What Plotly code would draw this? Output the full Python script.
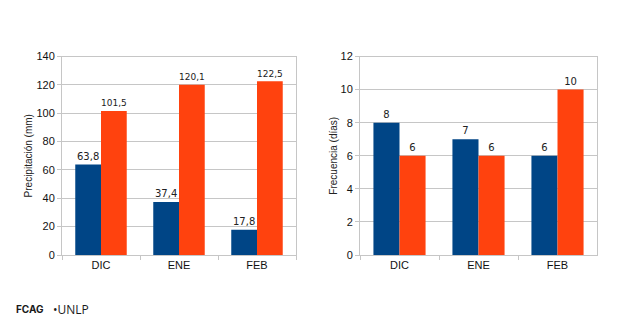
import plotly.graph_objects as go

# Monthly data: DIC, ENE, FEB
meses = ["DIC", "ENE", "FEB"]
precip_serie1 = [63.8, 37.4, 17.8]
precip_serie2 = [101.5, 120.1, 122.5]
frec_serie1 = [8, 7, 6]
frec_serie2 = [6, 6, 10]

AZUL = "#004586"
NARANJA = "#ff420e"
GRID = "#c6c6c6"
W, H = 620, 325

def px_x(p):
    return p / W

def px_y(p):
    return 1 - p / H

fig = go.Figure()

label_font = dict(family="DejaVu Sans, sans-serif", size=10, color="#222222")

fig.add_trace(go.Bar(x=meses, y=precip_serie1, marker_color=AZUL, xaxis="x", yaxis="y",
                     texttemplate="%{y:.1f}", textposition="outside", textfont=label_font,
                     cliponaxis=False, marker_line_width=0))
fig.add_trace(go.Bar(x=meses, y=precip_serie2, marker_color=NARANJA, xaxis="x", yaxis="y",
                     texttemplate="%{y:.1f}", textposition="outside", textfont=label_font,
                     cliponaxis=False, marker_line_width=0))
fig.add_trace(go.Bar(x=meses, y=frec_serie1, marker_color=AZUL, xaxis="x2", yaxis="y2",
                     texttemplate="%{y}", textposition="outside", textfont=label_font,
                     cliponaxis=False, marker_line_width=0))
fig.add_trace(go.Bar(x=meses, y=frec_serie2, marker_color=NARANJA, xaxis="x2", yaxis="y2",
                     texttemplate="%{y}", textposition="outside", textfont=label_font,
                     cliponaxis=False, marker_line_width=0))

tick_font = dict(family="Liberation Sans, Arial, sans-serif", size=11, color="#111111")
title_font = dict(family="Liberation Sans, Arial, sans-serif", size=10, color="#222222")
ydom = [px_y(255), px_y(56.5)]

common_x = dict(showline=True, linecolor=GRID, linewidth=1, mirror=True,
                ticks="outside", tickson="boundaries", ticklen=4, tickcolor=GRID,
                tickfont=tick_font, showgrid=False, automargin=False)
common_y = dict(showline=True, linecolor=GRID, linewidth=1, mirror=True,
                ticks="outside", ticklen=4, tickcolor=GRID, gridcolor=GRID,
                gridwidth=1, tickfont=tick_font, zeroline=False, automargin=False)

fig.update_layout(
    width=W, height=H,
    margin=dict(l=0, r=0, t=0, b=0, autoexpand=False),
    paper_bgcolor="white", plot_bgcolor="white",
    showlegend=False,
    barmode="group", bargap=0.34, bargroupgap=0,
    separators=",.",
    xaxis=dict(domain=[px_x(62), px_x(296)], anchor="y", **common_x),
    yaxis=dict(domain=ydom, anchor="x", range=[0, 140], dtick=20,
               title=dict(text="Precipitación (mm)", standoff=1, font=title_font),
               **common_y),
    xaxis2=dict(domain=[px_x(360), px_x(597)], anchor="y2", **common_x),
    yaxis2=dict(domain=ydom, anchor="x2", range=[0, 12], dtick=2,
                title=dict(text="Frecuencia (días)", standoff=1, font=title_font),
                **common_y),
    annotations=[
        dict(text="<b>FCAG</b>", x=px_x(14), y=px_y(309), xref="paper", yref="paper",
             xanchor="left", yanchor="middle", showarrow=False,
             font=dict(family="Inter, sans-serif", size=10, color="#1a1a1a")),
        dict(text="•UNLP", x=px_x(51), y=px_y(309), xref="paper", yref="paper",
             xanchor="left", yanchor="middle", showarrow=False,
             font=dict(family="Open Sans, sans-serif", size=12, color="#1a1a1a")),
    ],
)

fig.write_html("out.html")
